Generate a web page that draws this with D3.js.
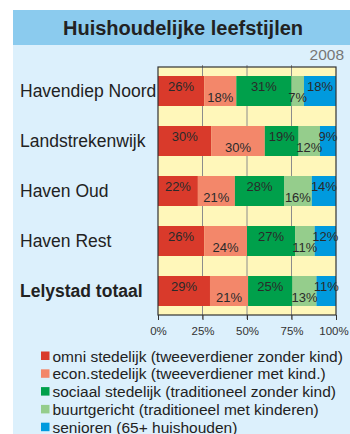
<!DOCTYPE html>
<html>
<head>
<meta charset="utf-8">
<script src="https://cdn.jsdelivr.net/npm/d3@7/dist/d3.min.js"></script>
<style>
  html, body { margin: 0; padding: 0; background: #ffffff; }
  svg { display: block; font-family: "Liberation Sans", Arial, sans-serif; }
</style>
</head>
<body>
<svg id="chart" width="350" height="434"></svg>
<script>
// Household lifestyle shares per district (percent), 2008
const districts = ["Havendiep Noord", "Landstrekenwijk", "Haven Oud", "Haven Rest", "Lelystad totaal"];
const segments = [
  "omni stedelijk (tweeverdiener zonder kind)",
  "econ.stedelijk (tweeverdiener met kind.)",
  "sociaal stedelijk (traditioneel zonder kind)",
  "buurtgericht (traditioneel met kinderen)",
  "senioren (65+ huishouden)"
];
const omni     = [26, 30, 22.4, 26, 29.2];
const econ     = [18, 30, 20.8, 24, 21.4];
const sociaal  = [31, 19, 27.6, 27, 25.0];
const buurt    = [7, 12, 15.6, 11, 13.4];
const senioren = [18, 9, 13.6, 12, 11.0];
const xTicks = [0, 25, 50, 75, 100];
const colors = ["#d93a2b", "#f3876a", "#00a04b", "#95cd8c", "#009ade"];

const series = [omni, econ, sociaal, buurt, senioren];
const rows = districts.map((d, i) => {
  const r = { district: d };
  segments.forEach((s, k) => { r[s] = series[k][i]; });
  return r;
});

const svg = d3.select("#chart");

// panel and header
svg.append("rect").attr("x", 13).attr("y", 10).attr("width", 337).attr("height", 424).attr("fill", "#dcf0fc");
svg.append("rect").attr("x", 13).attr("y", 10).attr("width", 337).attr("height", 35).attr("fill", "#8bcbee");
svg.append("text").attr("x", 183).attr("y", 35).attr("text-anchor", "middle")
  .attr("font-size", 20).attr("font-weight", "bold").attr("fill", "#222").text("Huishoudelijke leefstijlen");
svg.append("text").attr("x", 344).attr("y", 60).attr("text-anchor", "end")
  .attr("font-size", 15.5).attr("fill", "#777").text("2008");

const plot = { left: 158, right: 336, top: 67, bottom: 315 };
const x = d3.scaleLinear().domain([0, 100]).range([plot.left, plot.right]);
const y = d3.scaleBand().domain(districts).range([plot.top, plot.bottom])
  .paddingInner(0.4).paddingOuter(0.18);

// plot background
svg.append("rect").attr("x", plot.left).attr("y", plot.top)
  .attr("width", plot.right - plot.left).attr("height", plot.bottom - plot.top).attr("fill", "#fff7ba");

// vertical gridlines with small ticks outside top and bottom
svg.append("g").selectAll("line").data(xTicks.slice(1, -1)).join("line")
  .attr("x1", d => x(d)).attr("x2", d => x(d))
  .attr("y1", plot.top - 2).attr("y2", plot.bottom + 4)
  .attr("stroke", "#8c8c8c").attr("stroke-width", 1);

// stacked bars
const stack = d3.stack().keys(segments)(rows);
const layers = svg.append("g").selectAll("g").data(stack).join("g")
  .attr("fill", (d, i) => colors[i]);
layers.selectAll("rect").data(d => d).join("rect")
  .attr("x", d => x(d[0]))
  .attr("y", d => y(d.data.district))
  .attr("width", d => x(d[1]) - x(d[0]))
  .attr("height", y.bandwidth());

// value labels, alternating high and low within the bar
const labels = svg.append("g").attr("font-size", 13).attr("fill", "#2a2a2a").attr("text-anchor", "middle");
stack.forEach((layer, k) => {
  labels.selectAll(null).data(layer).join("text")
    .attr("x", d => (x(d[0]) + x(d[1])) / 2)
    .attr("y", d => y(d.data.district) + (k % 2 === 0 ? 15 : 25.5))
    .text(d => Math.round(d[1] - d[0]) + "%");
});

// frame
svg.append("rect").attr("x", plot.left).attr("y", plot.top)
  .attr("width", plot.right - plot.left).attr("height", plot.bottom - plot.top)
  .attr("fill", "none").attr("stroke", "#333").attr("stroke-width", 1.2);

// bottom axis
const xAxis = d3.axisBottom(x).tickValues(xTicks).tickFormat(d => d + "%").tickSize(5).tickPadding(7);
const gx = svg.append("g").attr("transform", `translate(0,${plot.bottom})`).call(xAxis);
gx.select(".domain").remove();
gx.selectAll(".tick line").attr("stroke", "#333");
gx.selectAll(".tick text").attr("font-size", 11.5).attr("fill", "#333")
  .attr("font-family", "'Liberation Sans', Arial, sans-serif")
  .attr("dx", d => d === 100 ? -2.5 : 0);

// district labels, left aligned in the panel
svg.append("g").selectAll("text").data(districts).join("text")
  .attr("x", 20)
  .attr("y", d => y(d) + y.bandwidth() / 2)
  .attr("dy", "0.35em")
  .attr("font-size", 17.5).attr("fill", "#222")
  .attr("font-weight", d => d === "Lelystad totaal" ? "bold" : "normal")
  .text(d => d);

// legend
const legend = svg.append("g").selectAll("g").data(segments).join("g")
  .attr("transform", (d, i) => `translate(41,${356 + i * 17.8})`);
legend.append("rect").attr("x", 0).attr("y", -4.5).attr("width", 8.5).attr("height", 8.5)
  .attr("fill", (d, i) => colors[i]);
legend.append("text").attr("x", 11.5).attr("y", 5.5).attr("font-size", 15.5).attr("fill", "#222").text(d => d);
</script>
</body>
</html>
